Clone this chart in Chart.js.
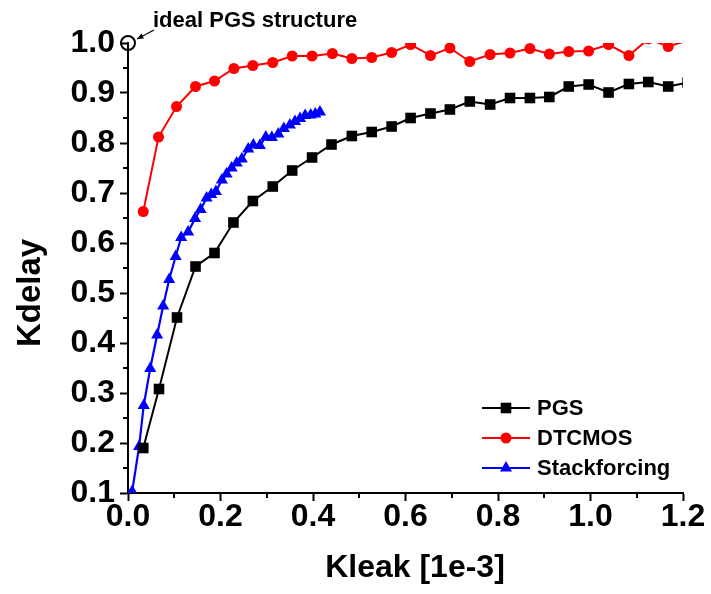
<!DOCTYPE html>
<html>
<head>
<meta charset="utf-8">
<script src="https://cdn.jsdelivr.net/npm/chart.js@4.4.1/dist/chart.umd.min.js"></script>
<style>
html,body{margin:0;padding:0;background:#fff;}
#wrap{width:711px;height:594px;position:relative;}
</style>
</head>
<body>
<div id="wrap"><canvas id="c" width="711" height="594"></canvas></div>
<script>
// ---- data ----
const pgsX = [0.033,0.067,0.106,0.146,0.187,0.228,0.270,0.313,0.355,0.398,0.440,0.484,0.527,0.570,0.611,0.654,0.696,0.739,0.783,0.826,0.869,0.911,0.953,0.996,1.039,1.083,1.125,1.168,1.21];
const pgsY = [0.190,0.308,0.451,0.553,0.580,0.641,0.684,0.713,0.745,0.771,0.797,0.814,0.822,0.833,0.850,0.859,0.867,0.883,0.877,0.890,0.890,0.892,0.913,0.917,0.901,0.918,0.922,0.913,0.921];

const dtX = [0.033,0.066,0.105,0.146,0.187,0.229,0.270,0.313,0.355,0.398,0.442,0.484,0.527,0.570,0.611,0.654,0.696,0.739,0.783,0.826,0.869,0.911,0.953,0.996,1.039,1.083,1.125,1.168,1.21];
const dtY = [0.663,0.812,0.873,0.913,0.924,0.949,0.955,0.961,0.974,0.974,0.979,0.969,0.971,0.981,0.997,0.975,0.990,0.963,0.977,0.980,0.989,0.978,0.983,0.984,0.997,0.975,1.008,0.993,1.005];

const sfX = [0.009,0.024,0.034,0.048,0.063,0.076,0.089,0.103,0.115,0.130,0.145,0.157,0.170,0.180,0.190,0.203,0.213,0.224,0.235,0.246,0.260,0.271,0.285,0.298,0.311,0.325,0.337,0.350,0.361,0.372,0.383,0.395,0.405,0.415];
const sfY = [0.103,0.193,0.275,0.349,0.416,0.474,0.527,0.573,0.611,0.622,0.649,0.667,0.690,0.697,0.703,0.726,0.738,0.750,0.760,0.768,0.788,0.796,0.795,0.812,0.811,0.818,0.829,0.836,0.843,0.849,0.855,0.856,0.858,0.862];

const idealX = [0.0];
const idealY = [1.0];

const seriesNames = ["PGS","DTCMOS","Stackforcing"];
const xTickValues = [0.0,0.2,0.4,0.6,0.8,1.0,1.2];
const yTickValues = [0.1,0.2,0.3,0.4,0.5,0.6,0.7,0.8,0.9,1.0];
const xMinor = [0.1,0.3,0.5,0.7,0.9,1.1];
const yMinor = [0.15,0.25,0.35,0.45,0.55,0.65,0.75,0.85,0.95];
const xTitle = "Kleak [1e-3]";
const yTitle = "Kdelay";
const annotationText = "ideal PGS structure";

const FONT = '"Liberation Sans", Arial, sans-serif';
const pts = (xs, ys) => xs.map((x, i) => ({x: x, y: ys[i]}));

const datasets = [
  {label: seriesNames[0], data: pts(pgsX, pgsY), borderColor:'#000', backgroundColor:'#000',
   borderWidth:2, pointStyle:'rect', pointRadius:7.5, pointBorderWidth:0, clip:0, inLegend:true},
  {label: seriesNames[1], data: pts(dtX, dtY), borderColor:'#ff0000', backgroundColor:'#ff0000',
   borderWidth:2, pointStyle:'circle', pointRadius:5.5, pointBorderWidth:0, clip:0, inLegend:true},
  {label: seriesNames[2], data: pts(sfX, sfY), borderColor:'#0000ff', backgroundColor:'#0000ff',
   borderWidth:2.2, pointStyle:'triangle', pointRadius:7, pointBorderWidth:0, clip:0, inLegend:true},
  {label: 'ideal', data: pts(idealX, idealY), showLine:false, borderColor:'#000', backgroundColor:'rgba(0,0,0,0)',
   pointStyle:'circle', pointRadius:7, pointBorderWidth:2, clip:false, inLegend:false}
];

const extras = {
  id: 'extras',
  afterDraw(chart) {
    const ctx = chart.ctx;
    const xs = chart.scales.x, ys = chart.scales.y;
    const ca = chart.chartArea;
    ctx.save();
    // minor ticks
    ctx.strokeStyle = '#000'; ctx.lineWidth = 2;
    yMinor.forEach(v => {
      const p = Math.round(ys.getPixelForValue(v));
      ctx.beginPath(); ctx.moveTo(ca.left, p); ctx.lineTo(ca.left - 5, p); ctx.stroke();
    });
    xMinor.forEach(v => {
      const p = Math.round(xs.getPixelForValue(v));
      ctx.beginPath(); ctx.moveTo(p, ca.bottom); ctx.lineTo(p, ca.bottom + 5); ctx.stroke();
    });
    // axis titles
    ctx.fillStyle = '#000';
    ctx.font = 'bold 32px ' + FONT;
    ctx.textAlign = 'center'; ctx.textBaseline = 'alphabetic';
    ctx.fillText(xTitle, 415, 577);
    ctx.save();
    ctx.translate(40, 293); ctx.rotate(-Math.PI / 2);
    ctx.font = 'bold 33px ' + FONT;
    ctx.fillText(yTitle, 0, 0);
    ctx.restore();
    // annotation
    ctx.font = 'bold 22px ' + FONT;
    ctx.textAlign = 'left';
    ctx.fillText(annotationText, 153, 27);
    const ax = xs.getPixelForValue(idealX[0]), ay = ys.getPixelForValue(idealY[0]);
    const sx = 154, sy = 30, ex = ax + 9, ey = ay - 4;
    ctx.lineWidth = 1.2;
    ctx.beginPath(); ctx.moveTo(sx, sy); ctx.lineTo(ex, ey); ctx.stroke();
    const ang = Math.atan2(ey - sy, ex - sx);
    ctx.beginPath();
    ctx.moveTo(ex, ey);
    ctx.lineTo(ex - 7 * Math.cos(ang - 0.4), ey - 7 * Math.sin(ang - 0.4));
    ctx.lineTo(ex - 7 * Math.cos(ang + 0.4), ey - 7 * Math.sin(ang + 0.4));
    ctx.closePath(); ctx.fill();
    // legend
    ctx.font = 'bold 22px ' + FONT;
    ctx.textBaseline = 'middle';
    let ly = 408;
    chart.data.datasets.forEach(ds => {
      if (!ds.inLegend) return;
      ctx.strokeStyle = ds.borderColor; ctx.lineWidth = 2;
      ctx.beginPath(); ctx.moveTo(482, ly); ctx.lineTo(530, ly); ctx.stroke();
      ctx.fillStyle = ds.backgroundColor;
      Chart.helpers.drawPoint(ctx, {pointStyle: ds.pointStyle, radius: ds.pointRadius, rotation: 0, borderWidth: 0}, 506, ly);
      ctx.fillStyle = '#000';
      ctx.fillText(ds.label, 537, ly + 1);
      ly += 30;
    });
    ctx.restore();
  }
};

new Chart(document.getElementById('c'), {
  type: 'line',
  data: {datasets: datasets},
  options: {
    responsive: false,
    animation: false,
    events: [],
    layout: {padding: {left: 0, top: 43, right: 28, bottom: 0}},
    plugins: {legend: {display: false}, tooltip: {enabled: false}},
    scales: {
      x: {
        type: 'linear', min: 0, max: 1.2,
        afterBuildTicks: s => { s.ticks = xTickValues.map(v => ({value: v})); },
        afterFit: s => { s.height = 101; },
        ticks: {autoSkip: false, maxRotation: 0, padding: 0, color: '#000',
          font: {family: FONT, size: 32, weight: 'bold', lineHeight: 1},
          callback: v => Number(v).toFixed(1)},
        grid: {drawOnChartArea: false, drawTicks: true, tickLength: 8, tickWidth: 2, tickColor: '#000'},
        border: {display: true, color: '#000', width: 2}
      },
      y: {
        type: 'linear', min: 0.1, max: 1.0,
        afterBuildTicks: s => { s.ticks = yTickValues.map(v => ({value: v})); },
        afterFit: s => { s.width = 128; },
        ticks: {autoSkip: false, padding: 5, color: '#000',
          font: {family: FONT, size: 32, weight: 'bold', lineHeight: 1},
          callback: v => Number(v).toFixed(1)},
        grid: {drawOnChartArea: false, drawTicks: true, tickLength: 8, tickWidth: 2, tickColor: '#000'},
        border: {display: true, color: '#000', width: 2}
      }
    }
  },
  plugins: [extras]
});
</script>
</body>
</html>
